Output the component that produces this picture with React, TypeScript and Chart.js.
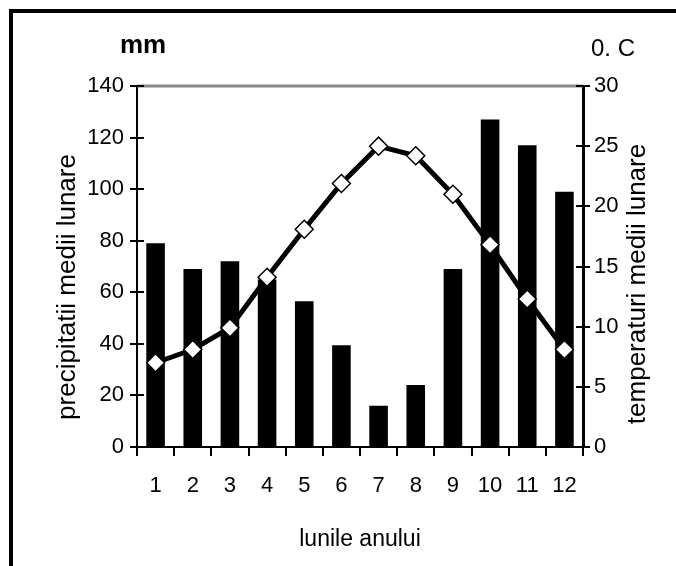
import React, { useEffect, useRef } from "react";
import { Chart, registerables } from "chart.js";

Chart.register(...registerables);

const months = ["1", "2", "3", "4", "5", "6", "7", "8", "9", "10", "11", "12"];
const precipitation = [79, 69, 72, 65, 56.5, 39.5, 16, 24, 69, 127, 117, 99];
const temperature = [7.0, 8.1, 9.9, 14.1, 18.1, 21.9, 25.0, 24.2, 21.0, 16.8, 12.3, 8.1];
const precipMin = 0;
const precipMax = 140;
const precipStep = 20;
const tempMin = 0;
const tempMax = 30;
const tempStep = 5;
const precipTitle = "precipitatii medii lunare";
const tempTitle = "temperaturi medii lunare";
const xTitle = "lunile anului";
const precipUnit = "mm";
const tempUnit = "0. C";

const REG = "'Liberation Sans', Arial, sans-serif";

const decorPlugin = {
  id: "decor",
  beforeDatasetsDraw(chart: any) {
    const { ctx, chartArea } = chart;
    ctx.save();
    ctx.strokeStyle = "#8a8a8a";
    ctx.lineWidth = 3;
    ctx.beginPath();
    ctx.moveTo(chartArea.left, chartArea.top);
    ctx.lineTo(chartArea.right, chartArea.top);
    ctx.stroke();
    // inner halves of the crossing tick marks
    ctx.strokeStyle = "#000";
    ctx.lineWidth = 2;
    const y = chart.scales.y;
    const y1 = chart.scales.y1;
    ctx.beginPath();
    y.ticks.forEach((t: any) => {
      const p = Math.round(y.getPixelForValue(t.value));
      ctx.moveTo(chartArea.left, p);
      ctx.lineTo(chartArea.left + 7, p);
    });
    y1.ticks.forEach((t: any) => {
      const p = Math.round(y1.getPixelForValue(t.value));
      ctx.moveTo(chartArea.right - 7, p);
      ctx.lineTo(chartArea.right, p);
    });
    ctx.stroke();
    ctx.restore();
  },
  afterDraw(chart: any) {
    const { ctx } = chart;
    ctx.save();
    ctx.fillStyle = "#000";
    ctx.textBaseline = "middle";
    ctx.textAlign = "center";
    ctx.font = `26px ${REG}`;
    ctx.save();
    ctx.translate(68, 287);
    ctx.rotate(-Math.PI / 2);
    ctx.fillText(precipTitle, 0, 0);
    ctx.restore();
    ctx.font = `26px ${REG}`;
    ctx.save();
    ctx.translate(638, 284);
    ctx.rotate(-Math.PI / 2);
    ctx.fillText(tempTitle, 0, 0);
    ctx.restore();
    ctx.textBaseline = "alphabetic";
    ctx.textAlign = "left";
    ctx.font = `bold 26px ${REG}`;
    ctx.fillText(precipUnit, 120, 53);
    ctx.font = `24px ${REG}`;
    ctx.fillText(tempUnit, 591, 56);
    ctx.restore();
  },
};

export default function App() {
  const ref = useRef<HTMLCanvasElement | null>(null);

  useEffect(() => {
    if (!ref.current) return;
    const tickFont = { family: REG, size: 22 };
    const chart = new Chart(ref.current, {
      type: "bar",
      data: {
        labels: months,
        datasets: [
          {
            type: "line",
            label: "temperatura",
            data: temperature,
            yAxisID: "y1",
            borderColor: "#000",
            borderWidth: 5,
            pointStyle: "rectRot",
            pointRadius: 9,
            pointBackgroundColor: "#fff",
            pointBorderColor: "#000",
            pointBorderWidth: 1.5,
            tension: 0,
            order: 0,
          } as any,
          {
            type: "bar",
            label: "precipitatii",
            data: precipitation,
            yAxisID: "y",
            backgroundColor: "#000",
            borderWidth: 0,
            categoryPercentage: 1,
            barPercentage: 0.5,
            order: 1,
          },
        ],
      },
      options: {
        responsive: false,
        animation: false,
        devicePixelRatio: 1,
        layout: { padding: { top: 86, left: 0, right: 0, bottom: 0 } },
        plugins: { legend: { display: false }, tooltip: { enabled: false } },
        scales: {
          x: {
            type: "category",
            offset: true,
            grid: {
              display: true,
              drawOnChartArea: false,
              drawTicks: true,
              tickLength: 9,
              color: "#000",
              lineWidth: 2,
              offset: true,
            },
            border: { display: true, color: "#000", width: 2 },
            ticks: { color: "#000", font: tickFont, padding: 17, maxRotation: 0, autoSkip: false },
            title: {
              display: true,
              text: xTitle,
              color: "#000",
              font: { family: REG, size: 23 },
              padding: { top: 0, bottom: 13 },
            },
            afterFit: (s: any) => {
              s.height = 119;
            },
          },
          y: {
            position: "left",
            min: precipMin,
            max: precipMax,
            ticks: { stepSize: precipStep, color: "#000", font: tickFont, padding: 6 },
            grid: { drawOnChartArea: false, tickLength: 7, color: "#000", lineWidth: 2 },
            border: { display: true, color: "#000", width: 2 },
            afterFit: (s: any) => {
              s.width = 137;
            },
          },
          y1: {
            position: "right",
            min: tempMin,
            max: tempMax,
            ticks: { stepSize: tempStep, color: "#000", font: tickFont, padding: 4 },
            grid: { drawOnChartArea: false, tickLength: 7, color: "#000", lineWidth: 2 },
            border: { display: true, color: "#000", width: 3 },
            afterFit: (s: any) => {
              s.width = 93;
            },
          },
        },
      } as any,
      plugins: [decorPlugin],
    });
    return () => chart.destroy();
  }, []);

  return (
    <div
      style={{
        position: "fixed",
        left: 0,
        top: 0,
        width: 676,
        height: 566,
        overflow: "hidden",
        background: "#fff",
      }}
    >
      <div
        style={{
          position: "absolute",
          left: 9,
          top: 9,
          width: 2000,
          height: 2000,
          borderLeft: "4px solid #000",
          borderTop: "4px solid #000",
        }}
      />
      <canvas
        ref={ref}
        width={676}
        height={566}
        style={{ position: "absolute", left: 0, top: 0, width: 676, height: 566 }}
      />
    </div>
  );
}
